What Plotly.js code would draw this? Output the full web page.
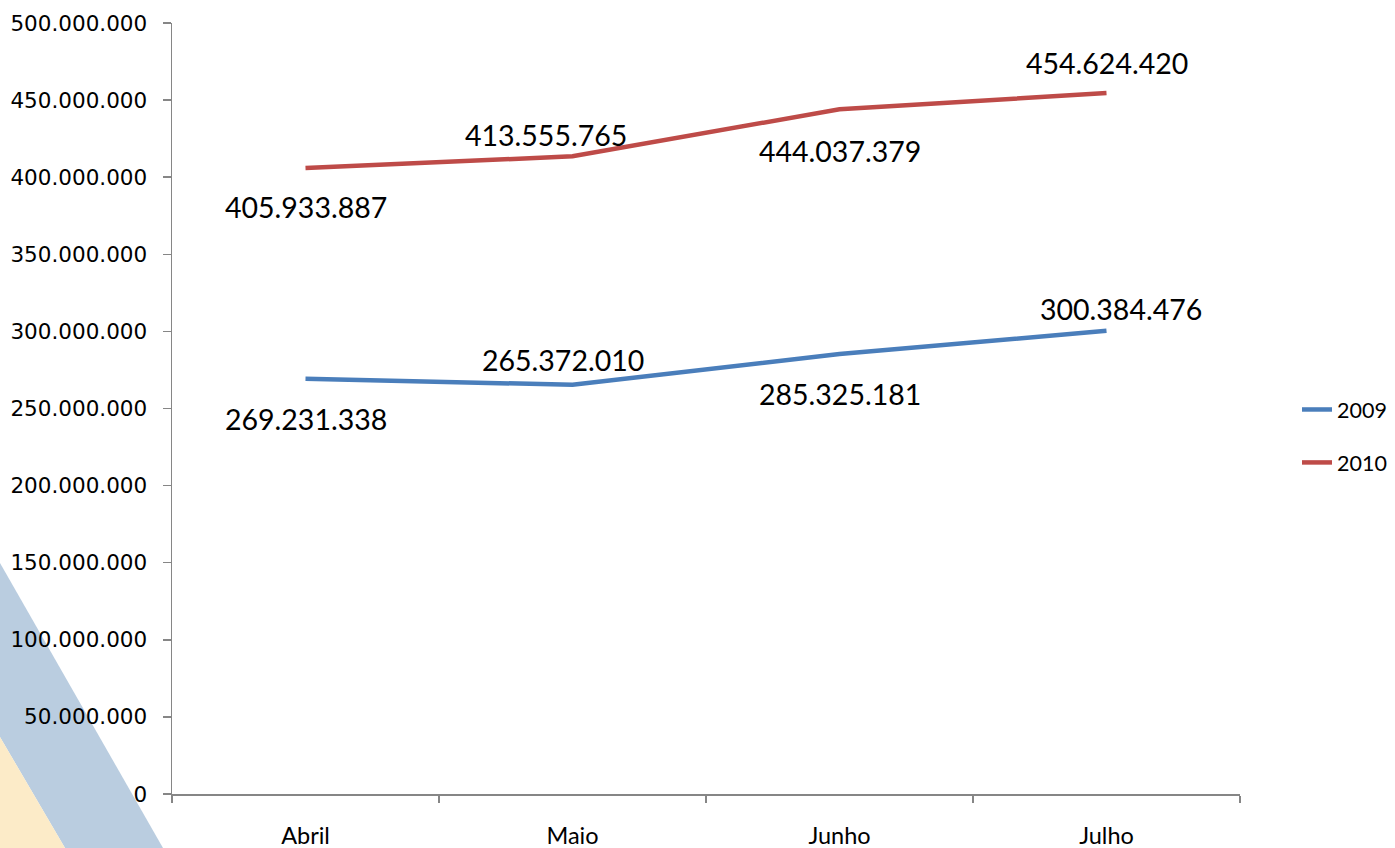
<!DOCTYPE html>
<html>
<head>
<meta charset="utf-8">
<script src="https://cdn.plot.ly/plotly-3.0.1.min.js"></script>
<style>
html,body{margin:0;padding:0;background:#fff;}
#chart{width:1395px;height:848px;}
</style>
</head>
<body>
<div id="chart"></div>
<script>
// ---- data ----
const months = ["Abril", "Maio", "Junho", "Julho"];
const values2009 = [269231338, 265372010, 285325181, 300384476];
const values2010 = [405933887, 413555765, 444037379, 454624420];
const seriesNames = ["2009", "2010"];
const yTickValues = [0, 50000000, 100000000, 150000000, 200000000, 250000000, 300000000, 350000000, 400000000, 450000000, 500000000];

// ---- label placement (style config) ----
const labelShift2009 = [[0, -40], [-10, 25], [0, -40], [14, 22]];
const labelShift2010 = [[0, -39], [-27, 21], [0, -42], [0, 30]];

function fmt(v) {
  return String(Math.round(v)).replace(/\B(?=(\d{3})+(?!\d))/g, ".");
}

const colors = ["#4a7ebb", "#be4b48"];
const traces = [values2009, values2010].map((vals, i) => ({
  type: "scatter",
  mode: "lines",
  x: months,
  y: vals,
  name: seriesNames[i],
  legendgroup: "g" + i,
  line: {color: colors[i], width: 4.5},
  hoverinfo: "skip"
}));

const annotations = [];
[[values2009, labelShift2009], [values2010, labelShift2010]].forEach(([vals, shifts]) => {
  vals.forEach((v, j) => {
    annotations.push({
      x: months[j], y: v, xref: "x", yref: "y",
      text: fmt(v), showarrow: false,
      xshift: shifts[j][0], yshift: shifts[j][1],
      font: {family: "Lato, sans-serif", size: 28.5, color: "#000"}
    });
  });
});

// decorative corner (paper coords computed from pixel layout)
const L = 172, T = 23, W = 1068, H = 771;
const px = x => (x - L) / W;
const py = y => (T + H - y) / H;
const shapes = [
  {type: "path", xref: "paper", yref: "paper", layer: "below",
   path: `M${px(0)},${py(563)} L${px(163)},${py(848)} L${px(65)},${py(848)} L${px(0)},${py(737)} Z`,
   fillcolor: "#bacde0", line: {width: 0}},
  {type: "path", xref: "paper", yref: "paper", layer: "below",
   path: `M${px(0)},${py(737)} L${px(65)},${py(848)} L${px(0)},${py(848)} Z`,
   fillcolor: "#fcebc8", line: {width: 0}}
];

const layout = {
  width: 1395, height: 848,
  margin: {l: L, r: 1395 - 1240, t: T, b: 848 - 794, pad: 0, autoexpand: false},
  paper_bgcolor: "rgba(0,0,0,0)",
  plot_bgcolor: "rgba(0,0,0,0)",
  separators: ",.",
  showlegend: true,
  hovermode: false,
  xaxis: {
    type: "category",
    range: [-0.5, 3.5],
    tickson: "boundaries",
    ticks: "outside", ticklen: 7, tickcolor: "#868686", tickwidth: 1.5,
    showline: true, linecolor: "#868686", linewidth: 1.5,
    showgrid: false, zeroline: false,
    ticklabelstandoff: 20,
    tickfont: {family: "Lato, sans-serif", size: 23.5, color: "#000"},
    fixedrange: true
  },
  yaxis: {
    range: [0, 500000000],
    tickvals: yTickValues,
    ticktext: yTickValues.map(fmt),
    ticks: "outside", ticklen: 8, tickcolor: "#868686", tickwidth: 1.5,
    showline: true, linecolor: "#868686", linewidth: 1.5,
    showgrid: false, zeroline: false,
    ticklabelstandoff: 11,
    tickfont: {family: "DejaVu Sans, sans-serif", size: 21.5, color: "#000"},
    fixedrange: true
  },
  legend: {
    x: px(1297), y: py(436), xanchor: "left", yanchor: "middle",
    traceorder: "grouped", tracegroupgap: 22,
    font: {family: "Lato, sans-serif", size: 21.5, color: "#000"},
    bgcolor: "rgba(0,0,0,0)", borderwidth: 0
  },
  annotations: annotations,
  shapes: shapes
};

Plotly.newPlot("chart", traces, layout, {displayModeBar: false, staticPlot: true});
</script>
</body>
</html>
